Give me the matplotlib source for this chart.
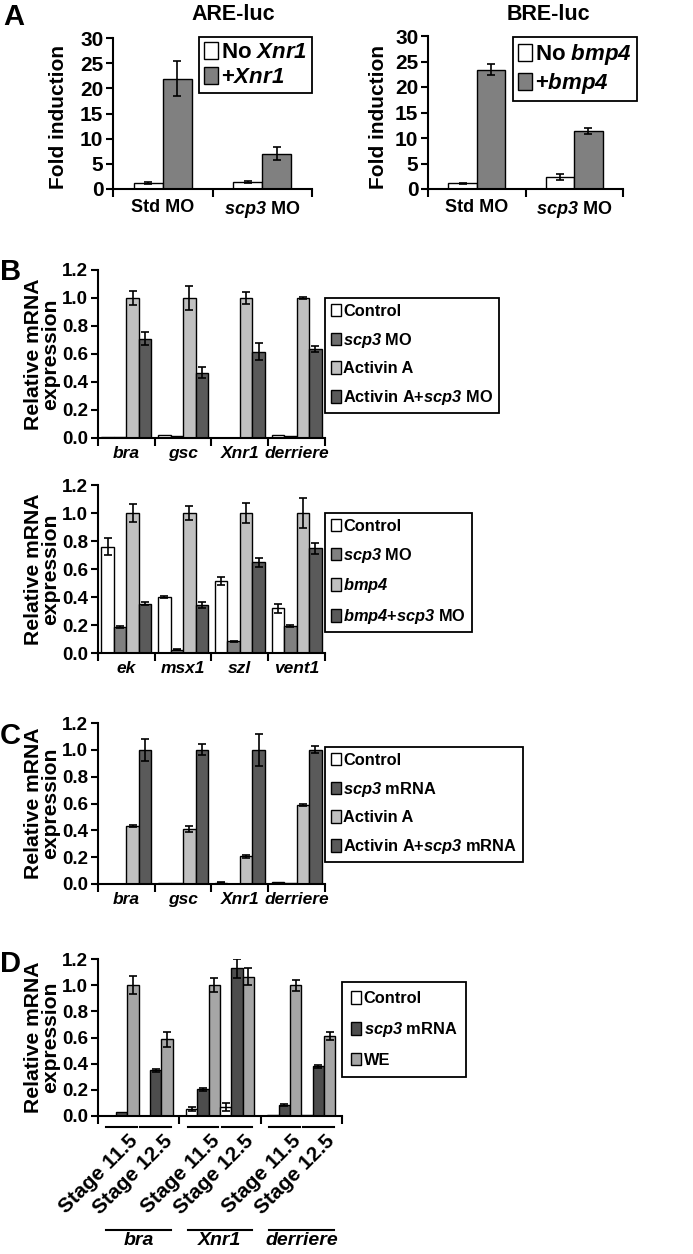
import matplotlib
matplotlib.use("Agg")
import matplotlib.pyplot as plt
import numpy as np
from matplotlib.patches import Patch
import matplotlib.transforms as mtrans

FAM = "Liberation Sans"
plt.rcParams["font.family"] = [FAM, "DejaVu Sans"]
plt.rcParams["font.weight"] = "bold"
plt.rcParams["axes.labelweight"] = "bold"
plt.rcParams["mathtext.fontset"] = "custom"
plt.rcParams["mathtext.rm"] = FAM + ":italic:bold"
plt.rcParams["mathtext.it"] = FAM + ":italic:bold"
plt.rcParams["mathtext.bf"] = FAM + ":bold"

# ---------------- data ----------------
# Panel A
a_cats = ["Std MO", r"$\mathrm{scp3}$ MO"]
are_no = [1.1, 1.45]
are_no_err = [0.2, 0.2]
are_plus = [21.9, 7.05]
are_plus_err = [3.45, 1.25]
bre_no = [1.1, 2.3]
bre_no_err = [0.15, 0.6]
bre_plus = [23.4, 11.4]
bre_plus_err = [1.05, 0.65]

# Panel B (top)
b1_cats = ["bra", "gsc", "Xnr1", "derriere"]
b1_control = [0.005, 0.024, 0.0, 0.024]
b1_control_err = [0.0, 0.0, 0.0, 0.0]
b1_scp3 = [0.005, 0.012, 0.0, 0.016]
b1_scp3_err = [0.0, 0.0, 0.0, 0.0]
b1_act = [1.0, 1.0, 1.0, 1.0]
b1_act_err = [0.05, 0.085, 0.043, 0.01]
b1_actscp3 = [0.71, 0.466, 0.617, 0.635]
b1_actscp3_err = [0.044, 0.04, 0.06, 0.02]

# Panel B (bottom)
b2_cats = ["ek", "msx1", "szl", "vent1"]
b2_control = [0.76, 0.402, 0.513, 0.318]
b2_control_err = [0.06, 0.008, 0.03, 0.035]
b2_scp3 = [0.184, 0.024, 0.083, 0.195]
b2_scp3_err = [0.008, 0.005, 0.005, 0.008]
b2_bmp4 = [1.0, 1.0, 1.0, 1.0]
b2_bmp4_err = [0.064, 0.05, 0.068, 0.11]
b2_bmpscp3 = [0.353, 0.341, 0.647, 0.748]
b2_bmpscp3_err = [0.01, 0.02, 0.033, 0.04]

# Panel C
c_cats = ["bra", "gsc", "Xnr1", "derriere"]
c_control = [0.0, 0.005, 0.01, 0.012]
c_control_err = [0.0, 0.0, 0.004, 0.0]
c_scp3 = [0.0, 0.005, 0.0, 0.01]
c_scp3_err = [0.0, 0.0, 0.0, 0.0]
c_act = [0.433, 0.41, 0.205, 0.59]
c_act_err = [0.008, 0.025, 0.01, 0.01]
c_actscp3 = [1.0, 1.0, 1.0, 1.0]
c_actscp3_err = [0.08, 0.04, 0.12, 0.025]

# Panel D  (order: [gene][stage])
d_genes = ["bra", "Xnr1", "derriere"]
d_stages = ["Stage 11.5", "Stage 12.5"]
d_control = [[0.0, 0.0], [0.05, 0.069], [0.005, 0.005]]
d_control_err = [[0.0, 0.0], [0.015, 0.033], [0.0, 0.0]]
d_scp3 = [[0.03, 0.35], [0.204, 1.128], [0.087, 0.38]]
d_scp3_err = [[0.0, 0.01], [0.01, 0.07], [0.008, 0.012]]
d_we = [[1.0, 0.587], [1.0, 1.064], [1.0, 0.612]]
d_we_err = [[0.068, 0.056], [0.056, 0.064], [0.042, 0.03]]

# ---------------- figure ----------------
W, H = 693, 1254
fig = plt.figure(figsize=(W / 100, H / 100), dpi=100)


def axes_px(l, t, r, b):
    return fig.add_axes([l / W, 1 - b / H, (r - l) / W, (b - t) / H])


def fx(x):
    return x / W


def fy(y):
    return 1 - y / H


def draw_err(ax, x, v, e):
    x = np.asarray(x, float)
    v = np.asarray(v, float)
    e = np.asarray(e, float)
    m = e > 0
    if m.any():
        ax.errorbar(x[m], v[m], yerr=e[m], fmt="none", ecolor="black",
                    elinewidth=1.2, capsize=2.6, capthick=1.2, zorder=4)


def style(ax, ymax, yticks, ylabels, bounds, xlim, fs=13.5):
    for s in ["top", "right"]:
        ax.spines[s].set_visible(False)
    for s in ["left", "bottom"]:
        ax.spines[s].set_linewidth(1.5)
    ax.set_ylim(0, ymax)
    ax.set_xlim(*xlim)
    ax.set_yticks(yticks)
    ax.set_yticklabels(ylabels, fontsize=fs, fontweight="bold")
    ax.tick_params(axis="y", direction="out", length=5, width=1.5, pad=2)
    ax.set_xticks(bounds)
    ax.set_xticklabels([""] * len(bounds))
    ax.tick_params(axis="x", which="major", direction="out", length=6, width=1.5)


def grouped(ax, series, errs, colors, width):
    n = len(series)
    x = np.arange(len(series[0]))
    for i, (vals, er, c) in enumerate(zip(series, errs, colors)):
        xs = x + (i - (n - 1) / 2) * width
        ax.bar(xs, vals, width, color=c, edgecolor="black", linewidth=1.0, zorder=2)
        draw_err(ax, xs, vals, er)


def cat_labels(ax, labels, italic=True, pad=6, fs=12.5):
    ax.set_xticks(np.arange(len(labels)), minor=True)
    ax.set_xticklabels(labels, minor=True, fontsize=fs, fontweight="bold",
                       fontstyle="italic" if italic else "normal")
    ax.tick_params(axis="x", which="minor", length=0, pad=pad)


def legend(ax, labels, colors, l, t, spacing=0.72, fs=11.8, bpad=0.35):
    handles = [Patch(facecolor=c, edgecolor="black", linewidth=1.0) for c in colors]
    lg = ax.legend(handles, labels, loc="upper left",
                   bbox_to_anchor=(fx(l), fy(t)), bbox_transform=fig.transFigure,
                   prop=dict(size=fs, weight="bold"), frameon=True, fancybox=False,
                   edgecolor="black", framealpha=1, handlelength=0.62,
                   handleheight=0.8, handletextpad=0.15, borderpad=bpad,
                   labelspacing=spacing, borderaxespad=0)
    lg.get_frame().set_linewidth(1.3)
    return lg


# ---------------- Panel A ----------------
a_w = 0.29
yt_a = [0, 5, 10, 15, 20, 25, 30]
for (l, r, t, no, noe, pl, ple, title, tx, ylx, leglab, legl) in [
    (113, 312, 38, are_no, are_no_err, are_plus, are_plus_err, "ARE-luc", 233, 58,
     [r"No $\mathrm{Xnr1}$", r"+$\mathrm{Xnr1}$"], 199),
    (428, 623, 36, bre_no, bre_no_err, bre_plus, bre_plus_err, "BRE-luc", 548, 378,
     [r"No $\mathrm{bmp4}$", r"+$\mathrm{bmp4}$"], 513),
]:
    ax = axes_px(l, t, r, 189)
    grouped(ax, [no, pl], [noe, ple], ["white", "#808080"], a_w)
    style(ax, 30, yt_a, [str(v) for v in yt_a], [-0.5, 0.5, 1.5], (-0.5, 1.5), fs=15)
    cat_labels(ax, a_cats, italic=False, pad=7, fs=13)
    fig.text(fx(tx), fy(15), title, ha="center", va="center", fontsize=15.5, fontweight="bold")
    fig.text(fx(ylx), fy(117), "Fold induction", rotation=90, ha="center", va="center",
             fontsize=15, fontweight="bold")
    legend(ax, leglab, ["white", "#808080"], legl, 37, spacing=0.18, fs=16, bpad=0.22)

fig.text(fx(3), fy(3), "A", ha="left", va="top", fontsize=21, fontweight="bold")

# ---------------- Panels B, C ----------------
yt_b = [0, 0.2, 0.4, 0.6, 0.8, 1.0, 1.2]
yl_b = [f"{v:.1f}" for v in yt_b]
bw = 0.22
bounds4 = [-0.5, 0.5, 1.5, 2.5, 3.5]


def ylab_rel(t, b):
    fig.text(fx(42), fy((t + b) / 2), "Relative mRNA\nexpression", rotation=90,
             ha="center", va="center", fontsize=15.2, fontweight="bold", linespacing=0.85)


ax = axes_px(98, 270, 325, 438)
b1_colors = ["white", "#6e6e6e", "#c0c0c0", "#5a5a5a"]
grouped(ax, [b1_control, b1_scp3, b1_act, b1_actscp3],
        [b1_control_err, b1_scp3_err, b1_act_err, b1_actscp3_err], b1_colors, bw)
style(ax, 1.2, yt_b, yl_b, bounds4, (-0.5, 3.5))
cat_labels(ax, b1_cats)
ylab_rel(270, 438)
legend(ax, ["Control", r"$\mathrm{scp3}$ MO", "Activin A", r"Activin A+$\mathrm{scp3}$ MO"],
       b1_colors, 325, 298)
fig.text(fx(0), fy(258), "B", ha="left", va="top", fontsize=21, fontweight="bold")

ax = axes_px(98, 485, 325, 653)
b2_colors = ["white", "#808080", "#c0c0c0", "#5a5a5a"]
grouped(ax, [b2_control, b2_scp3, b2_bmp4, b2_bmpscp3],
        [b2_control_err, b2_scp3_err, b2_bmp4_err, b2_bmpscp3_err], b2_colors, bw)
style(ax, 1.2, yt_b, yl_b, bounds4, (-0.5, 3.5))
cat_labels(ax, b2_cats)
ylab_rel(485, 653)
legend(ax, ["Control", r"$\mathrm{scp3}$ MO", r"$\mathrm{bmp4}$", r"$\mathrm{bmp4}$+$\mathrm{scp3}$ MO"],
       b2_colors, 325, 513)

ax = axes_px(98, 723, 325, 884)
c_colors = ["white", "#5a5a5a", "#c0c0c0", "#5a5a5a"]
grouped(ax, [c_control, c_scp3, c_act, c_actscp3],
        [c_control_err, c_scp3_err, c_act_err, c_actscp3_err], c_colors, bw)
style(ax, 1.2, yt_b, yl_b, bounds4, (-0.5, 3.5))
cat_labels(ax, c_cats)
ylab_rel(723, 884)
legend(ax, ["Control", r"$\mathrm{scp3}$ mRNA", "Activin A", r"Activin A+$\mathrm{scp3}$ mRNA"],
       c_colors, 325, 747)
fig.text(fx(0), fy(722), "C", ha="left", va="top", fontsize=21, fontweight="bold")

# ---------------- Panel D ----------------
d_top, d_bot = 959, 1116
ax = axes_px(98, d_top, 342, d_bot)
d_colors = ["white", "#4d4d4d", "#a6a6a6"]
dw = 0.14
for g in range(len(d_genes)):
    for s in range(2):
        for k, (vals, errs, col) in enumerate([(d_control, d_control_err, d_colors[0]),
                                               (d_scp3, d_scp3_err, d_colors[1]),
                                               (d_we, d_we_err, d_colors[2])]):
            idx = s * 3 + k
            xpos = g + (idx - 2.5) * dw
            ax.bar(xpos, vals[g][s], dw, color=col, edgecolor="black", linewidth=1.0, zorder=2)
            draw_err(ax, [xpos], [vals[g][s]], [errs[g][s]])
style(ax, 1.2, yt_b, yl_b, [-0.5, 0.5, 1.5, 2.5], (-0.5, 2.5))
ylab_rel(d_top, d_bot)
legend(ax, ["Control", r"$\mathrm{scp3}$ mRNA", "WE"], d_colors, 342, 982,
       spacing=0.85, bpad=0.55)
fig.text(fx(0), fy(950), "D", ha="left", va="top", fontsize=21, fontweight="bold")

trans = mtrans.blended_transform_factory(ax.transData, ax.transAxes)
hpx = d_bot - d_top


def yfrac(ypx):
    return -(ypx - d_bot) / hpx


for g, gene in enumerate(d_genes):
    for s, st in enumerate(d_stages):
        c = g + (s * 3 + 1 - 2.5) * dw
        ax.plot([c - 1.35 * dw, c + 1.35 * dw], [yfrac(1127)] * 2, color="black", lw=1.5,
                transform=trans, clip_on=False)
        ax.text(c + 0.6 * dw, yfrac(1131), st, rotation=45, rotation_mode="anchor",
                ha="right", va="top", fontsize=15, fontweight="bold", transform=trans)
    ax.plot([g - 2.85 * dw, g + 2.85 * dw], [yfrac(1230)] * 2, color="black", lw=1.5,
            transform=trans, clip_on=False)
    ax.text(g, yfrac(1232), gene, ha="center", va="top", fontsize=14, fontweight="bold",
            fontstyle="italic", transform=trans)

fig.savefig("out.png", dpi=100)
